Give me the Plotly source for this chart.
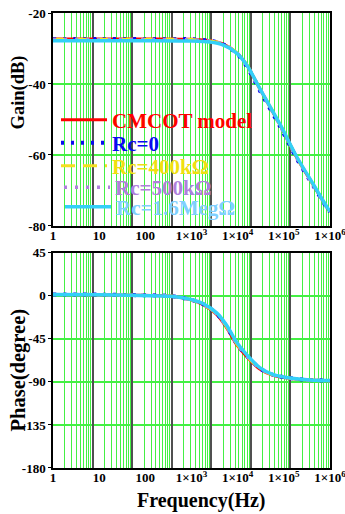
import plotly.graph_objects as go

# ---------------- data ----------------
freq_gain = [1, 10, 100, 1000, 2500, 4800, 9500, 16000, 30000, 83000, 190000, 440000, 850000, 1000000]
gain_model = [-27.3, -27.3, -27.3, -27.4, -27.8, -28.7, -31.2, -34.8, -41.3, -51.6, -60.7, -68.6, -74.7, -76.0]
gain_rc0 = [-27.3, -27.3, -27.3, -27.4, -27.8, -28.8, -31.4, -35.2, -41.8, -52.0, -61.0, -68.8, -74.8, -76.0]
gain_rc400k = [-27.4, -27.4, -27.4, -27.5, -27.9, -28.7, -31.1, -34.7, -41.2, -51.5, -60.6, -68.5, -74.6, -75.9]
gain_rc500k = [-27.5, -27.5, -27.5, -27.6, -27.9, -28.8, -31.2, -34.8, -41.3, -51.7, -60.8, -68.7, -74.8, -76.0]
gain_rc16m = [-27.8, -27.8, -27.8, -27.9, -28.2, -29.0, -31.3, -34.8, -41.2, -51.4, -60.5, -68.4, -74.6, -75.9]

freq_phase = [1, 10, 47, 340, 930, 1800, 3500, 5800, 9500, 16000, 30000, 59000, 135000, 370000, 1000000]
phase_model = [1.5, 1.2, 0.7, -0.3, -4.0, -9.2, -19.5, -33.5, -51.0, -64.0, -76.5, -83.2, -86.3, -88.1, -88.8]
phase_rc0 = [1.5, 1.3, 0.8, -0.2, -3.8, -8.8, -18.6, -32.3, -49.8, -63.0, -75.8, -82.7, -86.0, -88.0, -88.6]
phase_rc400k = [1.4, 1.2, 0.7, -0.3, -3.9, -9.0, -19.0, -32.8, -50.3, -63.4, -76.0, -82.9, -86.1, -88.0, -88.7]
phase_rc500k = [1.4, 1.2, 0.7, -0.3, -3.8, -8.9, -18.8, -32.5, -50.0, -63.2, -75.9, -82.8, -86.0, -88.0, -88.7]
phase_rc16m = [1.3, 1.1, 0.6, -0.4, -3.6, -8.3, -17.8, -31.0, -48.5, -62.0, -75.0, -82.3, -85.8, -87.9, -88.6]

series_names = ["CMCOT model", "Rc=0", "Rc=400kΩ", "Rc=500kΩ", "Rc=1.6MegΩ"]
gain_series = [gain_model, gain_rc0, gain_rc400k, gain_rc500k, gain_rc16m]
phase_series = [phase_model, phase_rc0, phase_rc400k, phase_rc500k, phase_rc16m]

x_tickvals = [1, 10, 100, 1000, 10000, 100000, 1000000]
x_ticktext = ["1", "10", "100", "1×10<sup>3</sup>", "1×10<sup>4</sup>", "1×10<sup>5</sup>", "1×10<sup>6</sup>"]
gain_tickvals = [-20, -40, -60, -80]
gain_ticktext = ["-20", "-40", "-60", "-80"]
phase_tickvals = [45, 0, -45, -90, -135, -180]
phase_ticktext = ["45", "0", "-45", "-90", "-135", "-180"]

# ---------------- styles ----------------
line_colors = ["#FF0000", "#0A0AF0", "#F5E020", "#B080DD", "#33D0F8"]
text_colors = ["#FF0000", "#0A0AF0", "#F0E010", "#B080DD", "#80D0FF"]
line_widths = [3, 4, 3, 3.5, 3.5]
line_dashes = ["solid", "3px,7px", "14px,8px", "3px,8px", "solid"]

FONT = "Liberation Serif"
GREEN = "#44F044"
DARK = "#505050"

fig = go.Figure()
legend_ids = ["legend", "legend2", "legend3", "legend4", "legend5"]

# empty traces so that the grid-only overlay axes get drawn
fig.add_trace(go.Scatter(x=[], y=[], xaxis="x3", yaxis="y", showlegend=False, hoverinfo="skip"))
fig.add_trace(go.Scatter(x=[], y=[], xaxis="x4", yaxis="y2", showlegend=False, hoverinfo="skip"))

for i in range(5):
    fig.add_trace(go.Scatter(
        x=freq_gain, y=gain_series[i], name=series_names[i], mode="lines",
        line=dict(color=line_colors[i], width=line_widths[i], dash=line_dashes[i],
                  shape="spline", smoothing=0.8),
        xaxis="x", yaxis="y", legend=legend_ids[i], hoverinfo="skip"))
for i in range(5):
    fig.add_trace(go.Scatter(
        x=freq_phase, y=phase_series[i], name=series_names[i], mode="lines",
        line=dict(color=line_colors[i], width=line_widths[i], dash=line_dashes[i],
                  shape="spline", smoothing=0.8),
        xaxis="x2", yaxis="y2", showlegend=False, hoverinfo="skip"))

top_dom = [0.532, 1.0]
bot_dom = [0.0, 0.473]

tickfont = dict(family=FONT, size=13, color="black", weight="bold")

data_x = dict(type="log", range=[-0.0001, 6.0001], showgrid=False, zeroline=False,
              tickvals=x_tickvals, ticktext=x_ticktext, tickfont=tickfont,
              showline=True, linecolor="black", linewidth=1.5, mirror=True,
              ticks="", ticklabelstandoff=-3, ticklabeloverflow="allow", automargin=False)
grid_x = dict(type="log", range=[0, 7], dtick=1, showgrid=True, gridcolor=DARK,
              gridwidth=2, showticklabels=False, ticks="", showline=False, zeroline=False,
              automargin=False,
              minor=dict(dtick="D1", showgrid=True, gridcolor=GREEN, gridwidth=1))

fig.update_layout(
    width=345, height=514,
    margin=dict(l=53, r=15, t=13, b=46, autoexpand=False),
    paper_bgcolor="white", plot_bgcolor="white",
    font=dict(family=FONT, color="black"),
    xaxis=dict(**data_x, anchor="y", domain=[0, 1]),
    xaxis2=dict(**data_x, anchor="y2", domain=[0, 1]),
    xaxis3=dict(**grid_x, anchor="y", overlaying="x"),
    xaxis4=dict(**grid_x, anchor="y2", overlaying="x2"),
    yaxis=dict(domain=top_dom, range=[-80, -20], tickvals=gain_tickvals, ticktext=gain_ticktext,
               tickfont=tickfont, showgrid=True, gridcolor=GREEN, gridwidth=2, zeroline=False,
               showline=True, linecolor="black", linewidth=1.5, mirror=True, automargin=False,
               ticks="outside", ticklen=3, tickcolor="black"),
    yaxis2=dict(domain=bot_dom, range=[-180, 45], tickvals=phase_tickvals, ticktext=phase_ticktext,
                tickfont=tickfont, showgrid=True, gridcolor=GREEN, gridwidth=2, zeroline=False,
                showline=True, linecolor="black", linewidth=1.5, mirror=True, automargin=False,
                ticks="outside", ticklen=3, tickcolor="black"),
    showlegend=True,
)

# axis titles
fig.add_annotation(text="Gain(dB)", textangle=-90, xref="paper", yref="paper",
                   x=(17.5 - 53) / 277, y=(468 - 93) / 455, xanchor="center", yanchor="middle",
                   showarrow=False, font=dict(family=FONT, size=18.5, color="black", weight="bold"))
fig.add_annotation(text="Phase(degree)", textangle=-90, xref="paper", yref="paper",
                   x=(17.5 - 53) / 277, y=(468 - 370) / 455, xanchor="center", yanchor="middle",
                   showarrow=False, font=dict(family=FONT, size=20.5, color="black", weight="bold"))
fig.add_annotation(text="Frequency(Hz)", xref="paper", yref="paper",
                   x=(201 - 53) / 277, y=(468 - 500) / 455, xanchor="center", yanchor="middle",
                   showarrow=False, font=dict(family=FONT, size=20, color="black", weight="bold"))

leg_y_px = [120, 143, 166, 187.5, 207]
leg_x_px = [56, 56, 56, 59, 60]
for i, lid in enumerate(legend_ids):
    fig.update_layout({lid: dict(
        x=(leg_x_px[i] - 53) / 277, y=(514 - 46 - leg_y_px[i]) / 455,
        xanchor="left", yanchor="middle", bgcolor="rgba(0,0,0,0)", borderwidth=0,
        font=dict(family=FONT, size=21, color=text_colors[i], weight="bold"),
        itemwidth=46)})

fig.write_html("out.html")
